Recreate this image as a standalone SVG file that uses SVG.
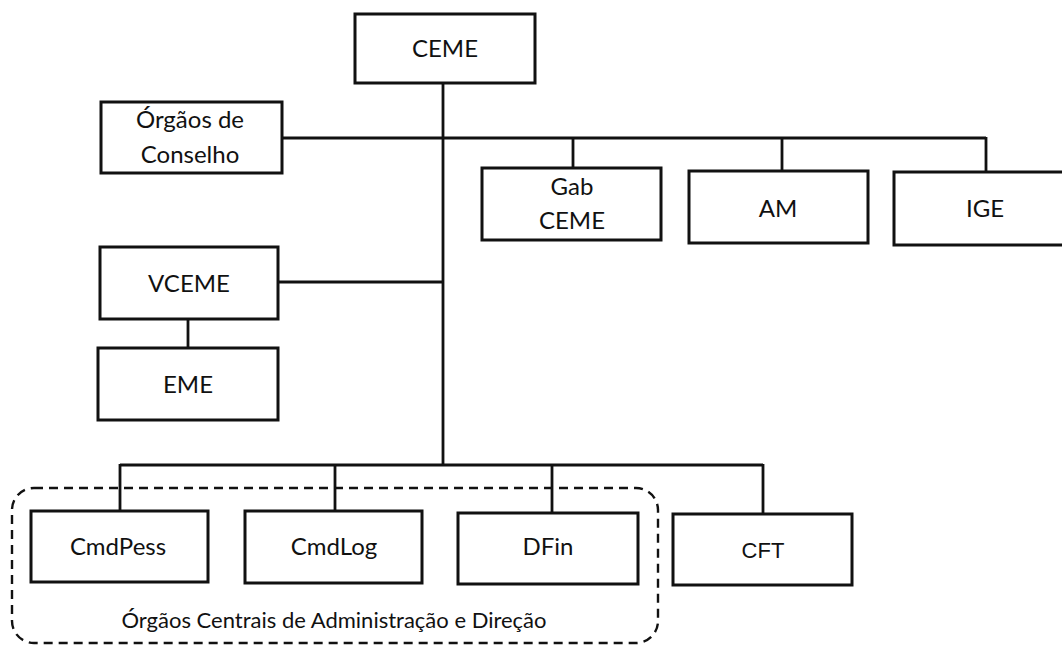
<svg xmlns="http://www.w3.org/2000/svg" width="1062" height="646" viewBox="0 0 1062 646">
<style>
.box{fill:#fff;stroke:#111;stroke-width:3}
.ln{fill:none;stroke:#111;stroke-width:2.8}
.t{font-family:Lato,"Open Sans","Liberation Sans",sans-serif;font-size:24px;fill:#111;text-anchor:middle}
.c{font-family:Lato,"Open Sans","Liberation Sans",sans-serif;font-size:22px;fill:#111;text-anchor:middle}
.a{font-family:"Liberation Sans",Arial,sans-serif;font-size:22px;fill:#111;text-anchor:middle}
.dash{fill:none;stroke:#111;stroke-width:2.4;stroke-dasharray:9 6}
</style>
<rect width="1062" height="646" fill="#fff"/>
<g id="connectors">
<line class="ln" x1="443" y1="83" x2="443" y2="465"/>
<line class="ln" x1="282" y1="138" x2="986" y2="138"/>
<line class="ln" x1="573" y1="138" x2="573" y2="168"/>
<line class="ln" x1="782" y1="138" x2="782" y2="171"/>
<line class="ln" x1="986" y1="137" x2="986" y2="172"/>
<line class="ln" x1="278" y1="282" x2="443" y2="282"/>
<line class="ln" x1="188" y1="319" x2="188" y2="348"/>
<line class="ln" x1="120" y1="465" x2="763" y2="465"/>
<line class="ln" x1="120" y1="464" x2="120" y2="511"/>
<line class="ln" x1="335" y1="464" x2="335" y2="511"/>
<line class="ln" x1="552" y1="464" x2="552" y2="513"/>
<line class="ln" x1="763" y1="464" x2="763" y2="514"/>
</g>
<g id="group-ocad">
<rect class="dash" x="12" y="488" width="646" height="155" rx="22"/>
<text class="c" x="334" y="628">Órgãos Centrais de Administração e Direção</text>
</g>
<g id="ceme"><rect class="box" x="355" y="14" width="180" height="69"/><text class="t" x="445" y="57">CEME</text></g>
<g id="orgaos-conselho"><rect class="box" x="101" y="102" width="181" height="71"/><text class="t" x="190" y="128">Órgãos de</text><text class="t" x="190" y="163">Conselho</text></g>
<g id="gab-ceme"><rect class="box" x="482" y="168" width="179" height="72"/><text class="t" x="572" y="195">Gab</text><text class="t" x="572" y="229">CEME</text></g>
<g id="am"><rect class="box" x="689" y="171" width="179" height="72"/><text class="t" x="778" y="217">AM</text></g>
<g id="ige"><rect class="box" x="894" y="172" width="180" height="73"/><text class="t" x="985" y="217">IGE</text></g>
<g id="vceme"><rect class="box" x="100" y="247" width="178" height="72"/><text class="t" x="189" y="292">VCEME</text></g>
<g id="eme"><rect class="box" x="98" y="348" width="180" height="72"/><text class="t" x="188" y="393">EME</text></g>
<g id="cmdpess"><rect class="box" x="31" y="511" width="177" height="71"/><text class="t" x="118" y="555">CmdPess</text></g>
<g id="cmdlog"><rect class="box" x="245" y="511" width="177" height="72"/><text class="t" x="334" y="555">CmdLog</text></g>
<g id="dfin"><rect class="box" x="458" y="513" width="180" height="71"/><text class="t" x="548" y="555">DFin</text></g>
<g id="cft"><rect class="box" x="673" y="514" width="179" height="71"/><text class="a" x="763" y="558">CFT</text></g>
</svg>
